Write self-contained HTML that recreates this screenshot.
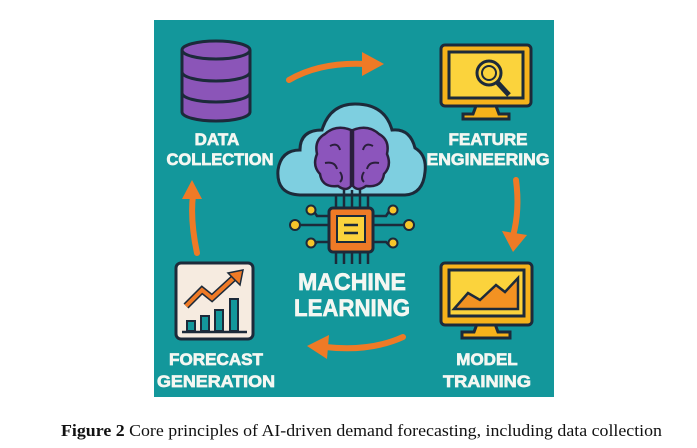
<!DOCTYPE html>
<html><head><meta charset="utf-8"><style>
html,body{margin:0;padding:0;background:#fff;width:697px;height:448px;overflow:hidden}
svg{display:block}
.t{font-family:"Liberation Sans",sans-serif;font-weight:bold;fill:#f4f7f2;stroke:#f4f7f2;stroke-width:0.7;text-anchor:middle}
</style></head><body>
<svg width="697" height="448" viewBox="0 0 697 448">
<rect x="154" y="20" width="400" height="377" fill="#13979b"/>
<!-- database -->
<g stroke="#1c2a3a" stroke-width="3" fill="#8b55b8">
<path d="M182 50 v62 a34 9 0 0 0 68 0 v-62"/>
<path d="M182 72 a34 9 0 0 0 68 0 M182 93 a34 9 0 0 0 68 0" fill="none"/>
<ellipse cx="216" cy="50" rx="34" ry="9"/>
</g>
<text class="t" x="217" y="145" font-size="17">DATA</text>
<text class="t" x="220" y="165" font-size="17" textLength="107" lengthAdjust="spacingAndGlyphs">COLLECTION</text>
<!-- feature monitor -->
<g stroke="#1c2a3a" stroke-width="3">
<path d="M476 106 l-3 8 h-10 v5 h46 v-5 h-10 l-3 -8z" fill="#f6b21b"/>
<rect x="441" y="45" width="90" height="61" rx="4" fill="#f6b21b"/>
<rect x="449" y="52" width="74" height="46" fill="#fbd33c"/>
<circle cx="489" cy="73" r="12" fill="#fbd33c"/>
<circle cx="489" cy="73" r="7" fill="none" stroke-width="2"/>
<path d="M497 82 l12 13" stroke-width="5"/>
</g>
<text class="t" x="488" y="145" font-size="17">FEATURE</text>
<text class="t" x="488" y="165" font-size="17" textLength="123" lengthAdjust="spacingAndGlyphs">ENGINEERING</text>
<!-- arrows -->
<g stroke="#ef7a26" stroke-width="6" fill="none" stroke-linecap="round">
<path d="M289 80 Q320 62 365 64"/>
<path d="M516 180 Q520 210 513 236"/>
<path d="M403 337 Q370 352 325 347"/>
<path d="M197 253 Q190 220 193 195"/>
</g>
<g fill="#ef7a26">
<path d="M362 52 L384 64 L362 76z"/>
<path d="M502 231 L527 235 L513 252z"/>
<path d="M307 346 L329 335 L327 359z"/>
<path d="M182 199 L192 180 L202 199z"/>
</g>
<!-- cloud -->
<path d="M300 195 Q276 194 278 170 Q281 150 300 150 Q300 130 322 130 Q330 104 355 104 Q385 104 392 130 Q410 128 415 148 Q427 155 425 172 Q423 194 405 195 Z" fill="#7ecfe0" stroke="#1c2a3a" stroke-width="3"/>
<!-- brain -->
<g stroke="#2a1f3c" stroke-width="2.5" fill="#8c55bc">
<path d="M351 130 Q336 124 325 134 Q314 140 317 154 Q312 166 320 174 Q322 188 338 186 Q346 192 351 186 Z"/>
<path d="M353 130 Q368 124 379 134 Q390 140 387 154 Q392 166 384 174 Q382 188 366 186 Q358 192 353 186 Z"/>
<path d="M330 146 q8 -4 10 4 M325 163 q10 -2 12 6 M340 172 q4 6 0 10 M373 146 q-8 -4 -10 4 M379 163 q-10 -2 -12 6 M364 172 q-4 6 0 10" fill="none" stroke-width="2"/>
</g>
<!-- chip wiring -->
<g stroke="#1c2a3a" stroke-width="2.5" fill="none">
<path d="M336 195 v13 M344 190 v18 M352 190 v18 M360 190 v18 M368 195 v13"/>
<path d="M336 252 v12 M344 252 v12 M352 252 v12 M360 252 v12 M368 252 v12"/>
<path d="M329 225 h-34 M329 216 h-12 l-4 -6 h-4 M329 242 h-12 l-4 4 h-4"/>
<path d="M374 225 h34 M374 216 h12 l4 -6 h4 M374 242 h12 l4 4 h4"/>
</g>
<g fill="#f6c52a" stroke="#1c2a3a" stroke-width="2">
<circle cx="295" cy="225" r="5"/><circle cx="311" cy="210" r="4.5"/><circle cx="311" cy="243" r="4.5"/>
<circle cx="409" cy="225" r="5"/><circle cx="393" cy="210" r="4.5"/><circle cx="393" cy="243" r="4.5"/>
</g>
<rect x="329" y="208" width="44" height="44" rx="4" fill="#ef7a26" stroke="#1c2a3a" stroke-width="3"/>
<rect x="337" y="216" width="28" height="26" fill="#fbd33c" stroke="#1c2a3a" stroke-width="2"/>
<path d="M344 225 h14 M344 233 h14" stroke="#1c2a3a" stroke-width="2.5"/>
<text class="t" x="352" y="290" font-size="24" textLength="108" lengthAdjust="spacingAndGlyphs">MACHINE</text>
<text class="t" x="352" y="316" font-size="24" textLength="116" lengthAdjust="spacingAndGlyphs">LEARNING</text>
<!-- model monitor -->
<g stroke="#1c2a3a" stroke-width="3">
<path d="M477 324 l-3 8 h-12 v6 h48 v-6 h-12 l-3 -8z" fill="#f6b21b"/>
<rect x="441" y="263" width="91" height="62" rx="4" fill="#f6b21b"/>
<rect x="449" y="270" width="75" height="46" fill="#fbd33c"/>
<path d="M454 309 L468 293 L480 300 L496 285 L505 292 L518 278 L518 309 Z" fill="#f39222" stroke-width="2.5"/>
</g>
<text class="t" x="487" y="365" font-size="17">MODEL</text>
<text class="t" x="487" y="387" font-size="17" textLength="88" lengthAdjust="spacingAndGlyphs">TRAINING</text>
<!-- forecast box -->
<rect x="176" y="263" width="77" height="76" rx="5" fill="#f6ebe0" stroke="#1c2a3a" stroke-width="3"/>
<g stroke="#1c2a3a" stroke-width="2" fill="#13979b">
<rect x="187" y="321" width="8" height="10"/><rect x="201" y="316" width="8" height="15"/><rect x="215" y="310" width="8" height="21"/><rect x="230" y="299" width="8" height="32"/>
</g>
<path d="M182 332 h65" stroke="#1c2a3a" stroke-width="2.5"/>
<path d="M186 306 L202 290 L212 298 L236 276" stroke="#1c2a3a" stroke-width="7" fill="none"/>
<path d="M186 306 L202 290 L212 298 L236 276" stroke="#ef7a26" stroke-width="4" fill="none"/>
<path d="M228 273 L243 270 L240 285Z" fill="#ef7a26" stroke="#1c2a3a" stroke-width="1.5"/>
<text class="t" x="216" y="365" font-size="17" textLength="94" lengthAdjust="spacingAndGlyphs">FORECAST</text>
<text class="t" x="216" y="387" font-size="17" textLength="118" lengthAdjust="spacingAndGlyphs">GENERATION</text>
<!-- caption -->
<text x="61" y="436" font-family="Liberation Serif,serif" font-size="16.5" fill="#111" textLength="601" lengthAdjust="spacingAndGlyphs"><tspan font-weight="bold">Figure 2</tspan> Core principles of AI-driven demand forecasting, including data collection</text>
</svg>
</body></html>
